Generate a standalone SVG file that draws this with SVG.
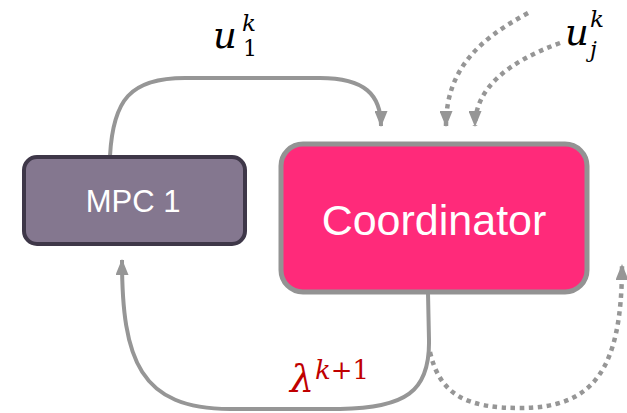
<svg xmlns="http://www.w3.org/2000/svg" width="627" height="413" viewBox="0 0 627 413">
  <style>
    .conn { fill: none; stroke: #969696; stroke-width: 4; }
    .dot { fill: none; stroke: #969696; stroke-width: 4.5; stroke-dasharray: 4.5 4.5; }
    .math { font-family: "DejaVu Serif", "Liberation Serif", serif; font-style: italic; }
    .label { font-family: "Liberation Sans", Arial, sans-serif; fill: #ffffff; text-anchor: middle; }
  </style>
  <defs>
    <marker id="arrow" viewBox="0 0 16 13" refX="15" refY="6.5" markerWidth="16" markerHeight="13" markerUnits="userSpaceOnUse" orient="auto">
      <path d="M0,0 L16,6.5 L0,13 z" fill="#969696"/>
    </marker>
  </defs>
  <rect width="627" height="413" fill="#ffffff"/>

  <g id="connectors">
    <path class="conn" d="M110,156 C113,100 130,78 185,78 L320,78 C365,78 381,95 381,126" marker-end="url(#arrow)"/>
    <path class="dot" d="M528,13 C478,40 446,70 446,126" marker-end="url(#arrow)"/>
    <path class="dot" d="M560,43 C508,62 475,88 475,126" marker-end="url(#arrow)"/>
    <path class="conn" d="M428,293 L429,340 C430,392 405,408 340,409 L230,409 C140,409 122,360 122,260" marker-end="url(#arrow)"/>
    <path class="dot" d="M430,352 C440,396 468,408 520,408 C592,408 622,372 622,265" marker-end="url(#arrow)"/>
  </g>

  <g id="mpc1">
    <rect x="24" y="157" width="221" height="87" rx="13" fill="#84778f" stroke="#3e3748" stroke-width="4"/>
    <text class="label" x="133" y="212" font-size="31">MPC 1</text>
  </g>

  <g id="coordinator">
    <rect x="281" y="144" width="306" height="148" rx="22" fill="#ff2a7a" stroke="#939393" stroke-width="5"/>
    <text class="label" x="434" y="235" font-size="43">Coordinator</text>
  </g>

  <g id="labels">
    <text class="math" x="213" y="48" font-size="37" fill="#000000">u</text>
    <text class="math" x="242" y="31" font-size="23" fill="#000000">k</text>
    <text x="243" y="56" font-size="22" fill="#000000" font-family="DejaVu Serif, serif">1</text>
    <text class="math" x="565" y="45" font-size="37" fill="#000000">u</text>
    <text class="math" x="590" y="27" font-size="23" fill="#000000">k</text>
    <text class="math" x="590" y="57" font-size="22" fill="#000000">j</text>
    <text class="math" x="290" y="392" font-size="38" fill="#c00000">λ</text>
    <text class="math" x="315" y="379" font-size="26" fill="#c00000">k<tspan font-style="normal">+1</tspan></text>
  </g>
</svg>
